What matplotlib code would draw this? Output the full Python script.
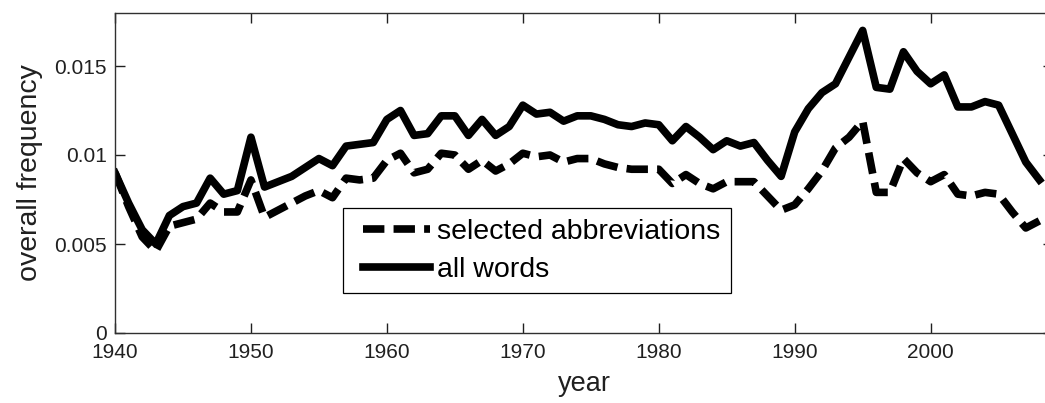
import matplotlib
matplotlib.use('Agg')
import matplotlib.pyplot as plt
from matplotlib.legend_handler import HandlerLine2D

years = list(range(1940, 2009))

# overall frequency of all words
all_words = [
    0.0090, 0.0073, 0.0058, 0.0050, 0.0066, 0.0071, 0.0073, 0.0087, 0.0078, 0.0080,
    0.0110, 0.0082, 0.0085, 0.0088, 0.0093, 0.0098, 0.0094, 0.0105, 0.0106, 0.0107,
    0.0120, 0.0125, 0.0111, 0.0112, 0.0122, 0.0122, 0.0111, 0.0120, 0.0111, 0.0116,
    0.0128, 0.0123, 0.0124, 0.0119, 0.0122, 0.0122, 0.0120, 0.0117, 0.0116, 0.0118,
    0.0117, 0.0108, 0.0116, 0.0110, 0.0103, 0.0108, 0.0105, 0.0107, 0.0097, 0.0088,
    0.0113, 0.0126, 0.0135, 0.0140, 0.0155, 0.0170, 0.0138, 0.0137, 0.0158, 0.0147,
    0.0140, 0.0145, 0.0127, 0.0127, 0.0130, 0.0128, 0.0112, 0.0096, 0.0086,
]

# overall frequency of the selected abbreviations
abbrev = [
    0.0090, 0.0071, 0.0054, 0.0046, 0.0060, 0.0062, 0.0064, 0.0073, 0.0068, 0.0068,
    0.0086, 0.0065, 0.0069, 0.0073, 0.0077, 0.0080, 0.0076, 0.0087, 0.0086, 0.0087,
    0.0097, 0.0101, 0.0090, 0.0092, 0.0101, 0.0100, 0.0092, 0.0097, 0.0091, 0.0095,
    0.0101, 0.0099, 0.0100, 0.0096, 0.0098, 0.0098, 0.0095, 0.0093, 0.0092, 0.0092,
    0.0092, 0.0084, 0.0089, 0.0084, 0.0081, 0.0085, 0.0085, 0.0085, 0.0077, 0.0069,
    0.0072, 0.0081, 0.0091, 0.0104, 0.0110, 0.0119, 0.0079, 0.0079, 0.0098, 0.0090,
    0.0085, 0.0089, 0.0078, 0.0077, 0.0079, 0.0078, 0.0068, 0.0059, 0.0063,
]

x_ticks = [1940, 1950, 1960, 1970, 1980, 1990, 2000]
y_ticks = [0, 0.005, 0.01, 0.015]
y_tick_labels = ['0', '0.005', '0.01', '0.015']

plt.rcParams['font.family'] = ['Liberation Sans', 'DejaVu Sans']

W, H = 1045, 403
fig = plt.figure(figsize=(W / 100, H / 100), dpi=100)
fig.patch.set_facecolor('white')

# axes box runs a little past the right edge of the image, like the original crop
ax = fig.add_axes([115 / W, 70 / H, 938 / W, 320.4 / H])

ax.plot(years, abbrev, color='black', linewidth=5.5, linestyle=(0, (2.8, 1.2)),
        label='selected abbreviations')
ax.plot(years, all_words, color='black', linewidth=5.5, linestyle='-',
        label='all words')

ax.set_xlim(1940, 2009)
ax.set_ylim(0, 0.018)
ax.set_xticks(x_ticks)
ax.set_xticklabels([str(t) for t in x_ticks])
ax.set_yticks(y_ticks)
ax.set_yticklabels(y_tick_labels)

ax.tick_params(direction='in', length=7, width=1, top=True, right=True,
               labelsize=15, colors='#202020')
ax.tick_params(axis='x', pad=7.5)
ax.tick_params(axis='y', pad=6)
for s in ax.spines.values():
    s.set_linewidth(1.0)
    s.set_color('#303030')

ax.set_xlabel('year', fontsize=19.5, color='#202020', labelpad=6)
ax.set_ylabel('overall frequency', fontsize=20.5, color='#202020', labelpad=8)

leg = ax.legend(loc='lower left', bbox_to_anchor=(228 / 938, 40 / 320.4),
                borderaxespad=0, fontsize=20.5, frameon=True, fancybox=False,
                edgecolor='black', framealpha=1, borderpad=0.36,
                labelspacing=0.43, handlelength=2.7, handletextpad=0.25,
                handler_map={plt.Line2D: HandlerLine2D(xpad=0.35)})
leg.get_frame().set_linewidth(0.9)

plt.savefig('out.png', dpi=100, facecolor='white')
